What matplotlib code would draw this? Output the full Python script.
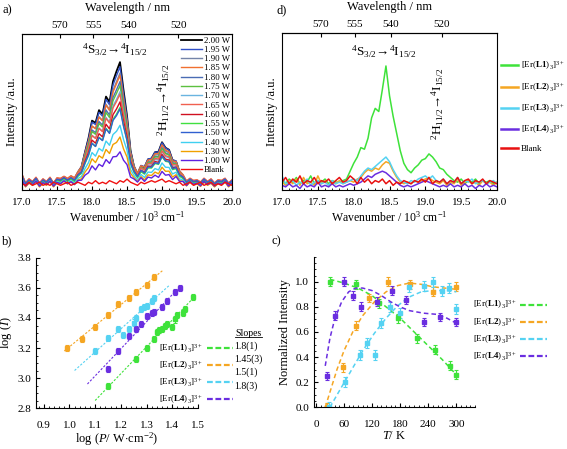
import numpy as np
import matplotlib
matplotlib.use('Agg')
import matplotlib.pyplot as plt
from matplotlib.lines import Line2D
from matplotlib.ticker import MultipleLocator, NullLocator, FormatStrFormatter

plt.rcParams['font.family'] = ['Liberation Serif', 'DejaVu Serif']
plt.rcParams['mathtext.fontset'] = 'custom'
plt.rcParams['mathtext.rm'] = 'Liberation Serif'
plt.rcParams['mathtext.it'] = 'Liberation Serif:italic'
plt.rcParams['mathtext.bf'] = 'Liberation Serif:bold'

# ---------- data ----------
wn = np.linspace(17.0, 20.0, 61)   # 10^3 cm-1, step 0.05

# a) power dependent spectra: common band shape, baseline ripple, amplitudes
shape_a = [0.04, 0.00, 0.01, 0.00, 0.01, 0.00, 0.01, 0.00, 0.01, 0.00,
           0.02, 0.03, 0.02, 0.03, 0.04, 0.05, 0.08, 0.14, 0.25, 0.38,
           0.50, 0.52, 0.60, 0.58, 0.70, 0.68, 0.84, 0.95, 1.00, 0.78,
           0.54, 0.29, 0.13, 0.08, 0.12, 0.15, 0.19, 0.21, 0.25, 0.28,
           0.32, 0.30, 0.27, 0.21, 0.16, 0.10, 0.05, 0.02, 0.00, 0.01,
           0.00, 0.01, 0.00, 0.00, 0.01, 0.00, 0.00, 0.01, 0.00, 0.00, 0.00]
ripple_a = [0.06, 0.03, 0.05, 0.04, 0.06, 0.03, 0.05, 0.04, 0.06, 0.03,
            0.05, 0.04, 0.06, 0.04, 0.05, 0.03, 0.05, 0.04, 0.05, 0.04,
            0.06, 0.03, 0.05, 0.04, 0.06, 0.04, 0.05, 0.03, 0.05, 0.04,
            0.06, 0.03, 0.05, 0.04, 0.06, 0.03, 0.05, 0.04, 0.05, 0.03,
            0.06, 0.04, 0.05, 0.03, 0.06, 0.04, 0.05, 0.03, 0.06, 0.04,
            0.05, 0.03, 0.06, 0.04, 0.05, 0.03, 0.05, 0.04, 0.06, 0.03, 0.05]
blank_a = [0.04, 0.03, 0.05, 0.03, 0.04, 0.05, 0.03, 0.04, 0.03, 0.05,
           0.04, 0.03, 0.04, 0.05, 0.03, 0.04, 0.05, 0.04, 0.03, 0.05,
           0.04, 0.06, 0.04, 0.05, 0.04, 0.06, 0.05, 0.04, 0.06, 0.05,
           0.07, 0.05, 0.04, 0.03, 0.05, 0.04, 0.05, 0.06, 0.05, 0.06,
           0.07, 0.05, 0.06, 0.05, 0.04, 0.05, 0.03, 0.04, 0.05, 0.03,
           0.04, 0.05, 0.03, 0.04, 0.05, 0.03, 0.04, 0.03, 0.05, 0.04, 0.03]
powers = ['2.00 W', '1.95 W', '1.90 W', '1.85 W', '1.80 W', '1.75 W', '1.70 W',
          '1.65 W', '1.60 W', '1.55 W', '1.50 W', '1.40 W', '1.30 W', '1.00 W']
amp_a = [0.77, 0.73, 0.70, 0.67, 0.64, 0.61, 0.58, 0.55, 0.51, 0.48, 0.46, 0.37, 0.30, 0.20]
offs_a = [0.00, 0.01, 0.00, 0.015, 0.005, 0.01, 0.0, 0.015, 0.005, 0.0, 0.01, -0.005, -0.01, -0.005]
colors_a = ['black', '#3050c8', '#7484a8', '#f07030', '#4a6cb4', '#5cc040', '#6ab4e0',
            '#f06050', '#d01020', '#40e040', '#3060d0', '#40d0f0', '#f0a000', '#6020e0']

# d) spectra of the four complexes + blank
green_d = [0.06, 0.04, 0.07, 0.05, 0.08, 0.04, 0.06, 0.05, 0.09, 0.04,
           0.06, 0.05, 0.07, 0.04, 0.06, 0.05, 0.05, 0.06, 0.07, 0.12,
           0.17, 0.21, 0.27, 0.26, 0.33, 0.46, 0.52, 0.50, 0.64, 0.79,
           0.60, 0.47, 0.36, 0.25, 0.17, 0.13, 0.11, 0.14, 0.16, 0.19,
           0.20, 0.23, 0.21, 0.18, 0.14, 0.13, 0.10, 0.08, 0.06, 0.05,
           0.07, 0.04, 0.06, 0.05, 0.07, 0.04, 0.06, 0.05, 0.06, 0.04, 0.05]
orange_d = [0.05, 0.03, 0.06, 0.04, 0.07, 0.03, 0.08, 0.04, 0.05, 0.03,
            0.09, 0.04, 0.06, 0.03, 0.05, 0.04, 0.06, 0.04, 0.05, 0.06,
            0.05, 0.07, 0.08, 0.11, 0.13, 0.12, 0.14, 0.13, 0.16, 0.18,
            0.17, 0.12, 0.08, 0.05, 0.04, 0.05, 0.04, 0.06, 0.05, 0.06,
            0.07, 0.08, 0.06, 0.05, 0.04, 0.06, 0.03, 0.05, 0.04, 0.07,
            0.03, 0.05, 0.06, 0.04, 0.05, 0.03, 0.06, 0.04, 0.05, 0.03, 0.05]
cyan_d = [0.09, 0.04, 0.05, 0.06, 0.03, 0.05, 0.04, 0.07, 0.03, 0.05,
          0.06, 0.04, 0.05, 0.03, 0.06, 0.04, 0.05, 0.04, 0.05, 0.06,
          0.07, 0.06, 0.09, 0.12, 0.14, 0.13, 0.15, 0.17, 0.19, 0.21,
          0.18, 0.13, 0.09, 0.06, 0.05, 0.04, 0.06, 0.05, 0.07, 0.08,
          0.09, 0.07, 0.09, 0.06, 0.05, 0.07, 0.04, 0.06, 0.05, 0.08,
          0.04, 0.06, 0.05, 0.07, 0.04, 0.05, 0.06, 0.04, 0.05, 0.06, 0.04]
purple_d = [0.03, 0.02, 0.04, 0.02, 0.03, 0.01, 0.04, 0.02, 0.03, 0.02,
            0.05, 0.02, 0.03, 0.02, 0.04, 0.02, 0.03, 0.02, 0.03, 0.04,
            0.03, 0.04, 0.05, 0.07, 0.09, 0.08, 0.10, 0.11, 0.12, 0.11,
            0.09, 0.07, 0.05, 0.03, 0.02, 0.03, 0.02, 0.03, 0.04, 0.05,
            0.06, 0.05, 0.04, 0.03, 0.02, 0.03, 0.02, 0.04, 0.02, 0.03,
            0.02, 0.04, 0.02, 0.03, 0.01, 0.03, 0.02, 0.04, 0.02, 0.03, 0.02]
blank_d = [0.05, 0.08, 0.04, 0.07, 0.05, 0.09, 0.04, 0.06, 0.05, 0.08,
           0.04, 0.06, 0.05, 0.07, 0.04, 0.06, 0.08, 0.05, 0.06, 0.09,
           0.07, 0.04, 0.08, 0.05, 0.07, 0.04, 0.06, 0.05, 0.07, 0.04,
           0.06, 0.03, 0.05, 0.04, 0.06, 0.05, 0.04, 0.06, 0.05, 0.07,
           0.05, 0.08, 0.04, 0.06, 0.05, 0.07, 0.04, 0.06, 0.05, 0.08,
           0.04, 0.06, 0.07, 0.04, 0.06, 0.05, 0.07, 0.04, 0.06, 0.05, 0.04]

names = [r'[Er($\mathbf{L1}$)$_3$]$^{3+}$', r'[Er($\mathbf{L2}$)$_3$]$^{3+}$',
         r'[Er($\mathbf{L3}$)$_3$]$^{3+}$', r'[Er($\mathbf{L4}$)$_3$]$^{3+}$']
col_L = ['#3ee23a', '#f5a623', '#55d2f2', '#6a2ee0']

# b) log-log power dependence
b_x = {
    'L1': [1.15, 1.26, 1.30, 1.33, 1.34, 1.35, 1.36, 1.37, 1.38, 1.40, 1.41, 1.42, 1.44, 1.45, 1.48],
    'L2': [0.99, 1.05, 1.10, 1.15, 1.19, 1.23, 1.26, 1.30, 1.33],
    'L3': [1.10, 1.15, 1.19, 1.21, 1.23, 1.25, 1.26, 1.28, 1.29, 1.30, 1.32, 1.33],
    'L4': [1.15, 1.19, 1.23, 1.26, 1.28, 1.30, 1.32, 1.33, 1.36, 1.38, 1.41, 1.43],
}
b_y = {
    'L1': [2.95, 3.13, 3.20, 3.26, 3.31, 3.32, 3.33, 3.35, 3.36, 3.34, 3.39, 3.42, 3.43, 3.46, 3.54],
    'L2': [3.20, 3.26, 3.34, 3.42, 3.49, 3.53, 3.57, 3.62, 3.67],
    'L3': [3.18, 3.27, 3.33, 3.29, 3.33, 3.37, 3.40, 3.46, 3.47, 3.48, 3.51, 3.53],
    'L4': [3.06, 3.18, 3.28, 3.33, 3.36, 3.41, 3.43, 3.44, 3.47, 3.51, 3.57, 3.60],
}
fit_x = {'L1': [1.10, 1.48], 'L2': [0.98, 1.365], 'L3': [1.02, 1.39], 'L4': [1.07, 1.43]}
fit_y = {'L1': [2.85, 3.53], 'L2': [3.18, 3.72], 'L3': [3.05, 3.62], 'L4': [2.96, 3.61]}
slopes = ['1.8(1)', '1.45(3)', '1.5(1)', '1.8(3)']

# c) temperature dependence
c_T = {
    'L1': [30, 85, 135, 176, 216, 255, 286, 300],
    'L2': [23, 58, 86, 114, 155, 201, 251, 299],
    'L3': [28, 62, 94, 109, 126, 139, 159, 179, 200, 230, 250, 269, 284, 300],
    'L4': [23, 41, 61, 80, 96, 131, 162, 193, 231, 266, 299],
}
c_v = {
    'L1': [1.00, 0.98, 0.83, 0.71, 0.55, 0.46, 0.33, 0.26],
    'L2': [0.00, 0.32, 0.65, 0.87, 1.00, 0.98, 0.92, 0.96],
    'L3': [0.00, 0.20, 0.42, 0.51, 0.42, 0.67, 0.80, 0.75, 0.96, 0.97, 1.00, 0.93, 0.95, 0.785],
    'L4': [0.25, 0.73, 1.00, 0.89, 0.80, 0.84, 0.93, 0.855, 0.68, 0.72, 0.68],
}
c_err = {'L1': 0.035, 'L2': 0.035, 'L3': 0.04, 'L4': 0.035}
cfit_T = {
    'L1': [30, 60, 90, 120, 150, 180, 210, 240, 270, 300],
    'L2': [20, 30, 45, 60, 80, 100, 125, 150, 175, 200, 225, 250, 275, 300],
    'L3': [30, 50, 75, 100, 125, 150, 175, 200, 225, 250, 275, 300],
    'L4': [20, 30, 40, 55, 70, 85, 100, 120, 140, 160, 180, 200, 230, 260, 280, 300],
}
cfit_v = {
    'L1': [1.02, 0.99, 0.95, 0.89, 0.80, 0.71, 0.60, 0.49, 0.38, 0.26],
    'L2': [0.00, 0.12, 0.30, 0.45, 0.61, 0.73, 0.84, 0.92, 0.97, 0.99, 0.98, 0.96, 0.95, 0.94],
    'L3': [0.00, 0.13, 0.29, 0.45, 0.59, 0.71, 0.81, 0.88, 0.92, 0.93, 0.93, 0.92],
    'L4': [0.33, 0.55, 0.70, 0.84, 0.92, 0.95, 0.95, 0.93, 0.89, 0.84, 0.80, 0.77, 0.75, 0.74, 0.71, 0.67],
}
keys = ['L1', 'L2', 'L3', 'L4']

# ---------- figure ----------
fig = plt.figure(figsize=(5.67, 4.49), dpi=100)
ax_a = fig.add_axes([0.0388, 0.5768, 0.3704, 0.3474])
ax_d = fig.add_axes([0.4974, 0.5768, 0.3792, 0.3497])
ax_b = fig.add_axes([0.0635, 0.0913, 0.2857, 0.3341])
ax_c = fig.add_axes([0.5538, 0.0929, 0.2840, 0.3354])


def nm_conv(x):
    x = np.asarray(x, dtype=float)
    with np.errstate(divide='ignore', invalid='ignore'):
        return 1e4 / x


s4 = r'$^{4}\mathrm{S}_{3/2}$→$^{4}\mathrm{I}_{15/2}$'
s2 = r'$^{2}\mathrm{H}_{11/2}$→$^{4}\mathrm{I}_{15/2}$'

for ax in (ax_a, ax_d):
    ax.set_xlim(17.0, 20.0)
    ax.set_ylim(0, 1.0)
    ax.xaxis.set_major_locator(MultipleLocator(0.5))
    ax.xaxis.set_minor_locator(MultipleLocator(0.1))
    ax.yaxis.set_major_locator(NullLocator())
    ax.tick_params(axis='x', which='both', direction='in', labelsize=8, pad=6)
    ax.tick_params(axis='x', which='major', length=3)
    ax.tick_params(axis='x', which='minor', length=1.5)
    ax.set_xlabel('Wavenumber / 10$^3$ cm$^{-1}$', fontsize=8.5, labelpad=2)
    ax.set_ylabel('Intensity /a.u.', fontsize=9, labelpad=3)
    ax.xaxis.set_major_formatter(FormatStrFormatter('%.1f'))
    sec = ax.secondary_xaxis('top', functions=(nm_conv, nm_conv))
    sec.set_xticks([570, 555, 540, 520])
    sec.tick_params(direction='in', length=3, labelsize=8, pad=3)
    sec.set_xlabel('Wavelength / nm', fontsize=9, labelpad=7)
    for sp in ax.spines.values():
        sp.set_linewidth(0.8)

# a)
for k in range(len(powers)):
    y = np.array(ripple_a) + offs_a[k] + amp_a[k] * np.array(shape_a)
    ax_a.plot(wn, y, color=colors_a[k], lw=1.3 if k == 0 else 1.0, label=powers[k])
ax_a.plot(wn, blank_a, color='#f01010', lw=1.0, label='Blank')
ax_a.legend(loc='upper right', bbox_to_anchor=(1.0, 0.995), frameon=False, fontsize=6.3,
            handlelength=2.4, handletextpad=0.2, labelspacing=0.13, borderpad=0.1,
            borderaxespad=0.1)
ax_a.text(18.33, 0.90, s4, ha='center', va='center', fontsize=9.5)
ax_a.text(19.02, 0.58, s2, ha='center', va='center', fontsize=9.5, rotation=90,
          rotation_mode='anchor')

# d)
for series, c in zip([green_d, orange_d, cyan_d, purple_d], col_L):
    ax_d.plot(wn, series, color=c, lw=1.1)
ax_d.plot(wn, blank_d, color='#e81010', lw=1.1)
hd = [Line2D([], [], color=c, lw=1.8) for c in col_L] + [Line2D([], [], color='#e81010', lw=1.8)]
ax_d.legend(hd, names + ['Blank'], loc='upper left', bbox_to_anchor=(1.02, 0.83),
            frameon=False, fontsize=6.5, handlelength=1.9, handletextpad=0.3,
            labelspacing=0.95, borderpad=0, borderaxespad=0)
ax_d.text(18.42, 0.88, s4, ha='center', va='center', fontsize=9.5)
ax_d.text(19.18, 0.55, s2, ha='center', va='center', fontsize=9.5, rotation=90,
          rotation_mode='anchor')

# b)
for key, c in zip(keys, col_L):
    ax_b.plot(fit_x[key], fit_y[key], color=c, lw=0.8, ls=(0, (2, 1.5)))
    ax_b.errorbar(b_x[key], b_y[key], yerr=0.02, fmt='s', ms=2.2, color=c, ecolor=c,
                  elinewidth=0.8, capsize=1.5, capthick=0.8)
ax_b.set_xlim(0.87, 1.5)
ax_b.set_ylim(2.8, 3.8)
ax_b.xaxis.set_major_locator(MultipleLocator(0.1))
ax_b.xaxis.set_minor_locator(MultipleLocator(0.02))
ax_b.yaxis.set_major_locator(MultipleLocator(0.2))
ax_b.yaxis.set_minor_locator(MultipleLocator(0.05))
ax_b.xaxis.set_major_formatter(FormatStrFormatter('%.1f'))
ax_b.yaxis.set_major_formatter(FormatStrFormatter('%.1f'))
ax_b.set_xlabel(r'log ($P$/ W$\cdot$cm$^{-2}$)', fontsize=9, labelpad=1)
ax_b.set_ylabel(r'log ($I$)', fontsize=9, labelpad=2)
hb = [Line2D([], [], color=c, lw=1.6, ls=(0, (2.6, 1.2))) for c in col_L]
leg1 = ax_b.legend(hb, names, loc='upper right', bbox_to_anchor=(1.215, 0.53),
                   markerfirst=False, frameon=False, fontsize=6.5, handlelength=2.9,
                   handletextpad=0.4, labelspacing=0.5, borderpad=0, borderaxespad=0,
                   title=' ', title_fontsize=7)
ax_b.add_artist(leg1)
hs = [Line2D([], [], lw=0) for _ in col_L]
leg2 = ax_b.legend(hs, slopes, loc='upper left', bbox_to_anchor=(1.225, 0.53),
                   frameon=False, fontsize=7, handlelength=0, handletextpad=0,
                   labelspacing=0.38, borderpad=0, borderaxespad=0,
                   title='Slopes', title_fontsize=7)

# c)
for key, c in zip(keys, col_L):
    ax_c.plot(cfit_T[key], cfit_v[key], color=c, lw=1.1, ls=(0, (3, 2)))
    ax_c.errorbar(c_T[key], c_v[key], yerr=c_err[key], fmt='s', ms=2.2, color=c, ecolor=c,
                  elinewidth=0.8, capsize=1.5, capthick=0.8)
ax_c.set_xlim(-4, 340)
ax_c.set_ylim(0, 1.2)
ax_c.set_xticks([0, 60, 120, 180, 240, 300])
ax_c.xaxis.set_minor_locator(MultipleLocator(10))
ax_c.set_yticks([0.0, 0.2, 0.4, 0.6, 0.8, 1.0])
ax_c.yaxis.set_minor_locator(MultipleLocator(0.05))
ax_c.yaxis.set_major_formatter(FormatStrFormatter('%.1f'))
ax_c.set_xlabel(r'$T$/ K', fontsize=9, labelpad=1)
ax_c.set_ylabel('Normalized Intensity', fontsize=9, labelpad=3)
hc = [Line2D([], [], color=c, lw=1.6, ls=(0, (2.6, 1.2))) for c in col_L]
ax_c.legend(hc, names, loc='upper right', bbox_to_anchor=(1.45, 0.72), markerfirst=False,
            frameon=False, fontsize=6.5, handlelength=3.0, handletextpad=0.4,
            labelspacing=0.5, borderpad=0, borderaxespad=0)

for ax in (ax_b, ax_c):
    ax.spines['top'].set_visible(False)
    ax.spines['right'].set_visible(False)
    ax.tick_params(which='both', direction='in', labelsize=8)
    ax.tick_params(which='major', length=3)
    ax.tick_params(which='minor', length=1.5)
    ax.tick_params(axis='x', pad=9)

fig.text(0.004, 0.978, 'a)', fontsize=9, va='center')
fig.text(0.488, 0.978, 'd)', fontsize=9, va='center')
fig.text(0.004, 0.462, 'b)', fontsize=9, va='center')
fig.text(0.478, 0.462, 'c)', fontsize=9, va='center')

# underline the "Slopes" header
fig.canvas.draw()
bb = leg2.get_title().get_window_extent().transformed(fig.transFigure.inverted())
fig.add_artist(Line2D([bb.x0, bb.x1], [bb.y0 + 0.001, bb.y0 + 0.001], color='black',
                      lw=0.6, transform=fig.transFigure))

fig.savefig('out.png', dpi=100)
